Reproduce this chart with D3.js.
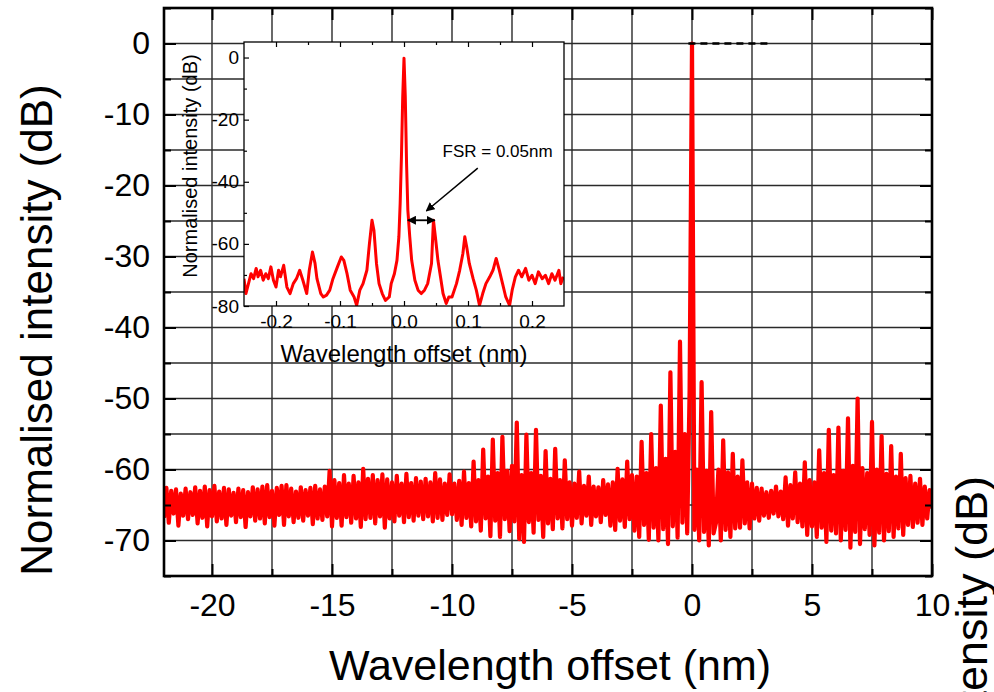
<!DOCTYPE html>
<html><head><meta charset="utf-8">
<script src="https://cdn.jsdelivr.net/npm/d3@7"></script>
<style>
body{margin:0;background:#fff}
svg text{font-family:"Liberation Sans",Arial,Helvetica,sans-serif;fill:#000}
</style>
</head><body>
<svg id="chart" width="994" height="692"></svg>
<script>
// ---------------- DATA ----------------
// main spectrum: samples from -22 nm every 0.1 nm
const mainXStart = -22, mainXStep = 0.1;
const mainY = [
 -66.8,-62.6,-67.5,-63.0,-66.2,-62.8,-67.9,-63.4,-66.5,-62.7,
 -67.0,-63.2,-66.4,-62.5,-67.6,-63.0,-66.8,-62.4,-68.0,-62.9,
 -66.6,-62.3,-67.3,-63.1,-66.9,-62.6,-67.8,-62.8,-66.5,-63.3,
 -67.4,-62.7,-66.7,-62.9,-68.1,-63.2,-66.6,-62.5,-67.2,-62.8,
 -66.9,-62.4,-67.6,-62.2,-66.7,-63.0,-67.9,-62.6,-66.4,-62.3,
 -67.8,-62.2,-66.6,-62.7,-67.4,-63.1,-66.8,-62.5,-67.2,-62.9,
 -66.5,-62.6,-67.7,-62.3,-66.9,-62.8,-67.1,-62.4,-66.6,-60.2,
 -68.0,-61.5,-66.8,-61.9,-67.9,-60.8,-66.7,-62.0,-67.5,-60.9,
 -66.9,-61.8,-68.1,-59.9,-67.0,-61.3,-66.8,-60.8,-67.6,-61.5,
 -66.6,-60.7,-68.2,-61.4,-66.9,-61.8,-67.3,-60.9,-66.5,-62.0,
 -67.4,-60.6,-66.7,-61.9,-67.2,-61.2,-66.5,-61.7,-67.0,-61.3,
 -66.6,-61.8,-67.3,-60.5,-66.8,-61.4,-67.1,-62.0,-66.4,-60.7,
 -66.3,-62.0,-67.1,-61.6,-67.8,-60.3,-66.8,-61.9,-68.0,-58.9,
 -67.3,-61.5,-68.6,-57.2,-66.9,-61.0,-69.4,-55.8,-67.2,-60.5,
 -69.5,-55.4,-67.0,-60.2,-68.7,-59.5,-67.3,-53.4,-69.8,-60.8,
 -70.2,-55.1,-67.4,-60.5,-68.9,-54.4,-67.1,-60.9,-69.5,-57.4,
 -67.6,-61.3,-68.4,-57.1,-66.9,-61.5,-68.3,-58.7,-67.0,-61.8,
 -67.9,-62.0,-66.8,-60.3,-67.6,-62.3,-66.5,-61.0,-67.8,-62.4,
 -66.6,-62.5,-67.4,-61.5,-66.4,-62.1,-67.9,-61.8,-68.5,-59.9,
 -67.2,-61.4,-68.1,-58.9,-67.0,-60.8,-68.6,-61.0,-69.5,-56.1,
 -67.8,-60.5,-69.9,-55.0,-68.2,-59.8,-70.0,-51.0,-68.4,-58.5,
 -70.5,-46.3,-68.0,-57.5,-69.6,-42.0,-67.5,-55.0,-69.0,-48.8,
   0.0,-68.5,-60.0,-70.0,-47.7,-68.8,-60.2,-70.7,-51.9,-69.0,
 -67.5,-60.0,-70.0,-55.9,-68.5,-60.4,-69.5,-57.8,-68.3,-61.0,
 -68.2,-58.7,-67.6,-61.8,-68.3,-62.0,-66.9,-62.6,-67.2,-62.7,
 -66.5,-63.2,-66.8,-63.0,-66.2,-62.4,-66.6,-63.1,-67.0,-61.1,
 -67.9,-62.2,-66.9,-60.4,-67.4,-62.0,-68.0,-59.0,-69.2,-61.5,
 -68.0,-61.8,-69.5,-57.3,-68.2,-60.5,-70.2,-54.4,-68.6,-60.8,
 -69.0,-54.1,-70.0,-60.2,-68.5,-52.8,-71.0,-59.5,-68.8,-50.0,
 -70.5,-59.8,-68.4,-60.5,-69.2,-53.3,-70.7,-60.0,-68.9,-55.3,
 -70.0,-60.6,-68.7,-56.7,-69.5,-61.0,-68.3,-57.8,-69.2,-61.2,
 -67.8,-60.9,-68.1,-62.0,-67.5,-61.3,-67.8,-62.4,-66.9,-62.9,
 -65.5
];
// dashed 0 dB reference
const dashX = [-0.15, 3.2];
const dashY = [0, 0];

const xMajorTicks = [-20,-15,-10,-5,0,5,10];
const xMinorTicks = [-17.5,-12.5,-7.5,-2.5,2.5,7.5];
const yMajorTicks = [0,-10,-20,-30,-40,-50,-60,-70];
const yMinorTicks = [5,-5,-15,-25,-35,-45,-55,-65,-75];
const xGrid = [-20,-17.5,-15,-12.5,-10,-7.5,-5,-2.5,0,2.5,5,7.5];
const yGrid = [0,-5,-10,-15,-20,-25,-30,-35,-40,-45,-50,-55,-60,-65,-70];

// inset spectrum
const insetX = [-0.250,-0.247,-0.243,-0.239,-0.235,-0.231,-0.228,-0.224,-0.220,-0.216,
 -0.212,-0.208,-0.204,-0.200,-0.196,-0.193,-0.188,-0.183,-0.178,-0.173,
 -0.168,-0.163,-0.158,-0.152,-0.148,-0.143,-0.139,-0.136,-0.130,-0.126,
 -0.121,-0.116,-0.111,-0.104,-0.098,-0.094,-0.089,-0.084,-0.078,-0.074,
 -0.069,-0.064,-0.058,-0.054,-0.050,-0.047,-0.043,-0.039,-0.034,-0.029,
 -0.023,-0.020,-0.015,-0.011,-0.008,-0.006,-0.004,-0.002,0.000,0.002,
 0.004,0.006,0.009,0.012,0.017,0.022,0.027,0.032,0.037,0.043,
 0.046,0.049,0.053,0.057,0.061,0.066,0.070,0.075,0.082,0.087,
 0.092,0.095,0.098,0.102,0.108,0.113,0.118,0.123,0.128,0.134,
 0.139,0.144,0.149,0.154,0.159,0.165,0.169,0.174,0.179,0.184,
 0.190,0.195,0.200,0.205,0.210,0.216,0.221,0.226,0.231,0.236,
 0.242,0.245,0.249];
const insetY = [-71.2,-76.0,-72.8,-69.6,-71.2,-67.9,-70.6,-68.5,-71.7,-69.6,
 -71.2,-67.4,-71.7,-73.9,-68.5,-70.6,-66.9,-73.9,-76.0,-72.8,
 -71.2,-68.5,-71.7,-76.0,-68.5,-62.6,-66.3,-71.2,-76.0,-77.1,
 -76.5,-74.9,-71.2,-67.4,-64.2,-65.3,-69.6,-74.9,-77.1,-79.8,
 -74.9,-72.8,-68.5,-59.9,-52.4,-55.6,-66.3,-72.8,-76.0,-78.2,
 -77.1,-72.8,-69.6,-65.3,-57.7,-47.0,-31.9,-12.6,-0.2,-12.6,
 -34.1,-49.1,-57.7,-65.3,-71.7,-74.9,-76.0,-74.9,-72.8,-66.3,
 -52.4,-57.7,-65.3,-70.6,-76.0,-79.2,-77.1,-77.1,-72.8,-68.5,
 -63.1,-57.7,-61.0,-66.3,-71.2,-74.9,-79.8,-76.0,-72.8,-70.6,
 -68.5,-64.7,-68.5,-72.8,-77.1,-79.8,-74.9,-70.6,-68.5,-70.6,
 -67.9,-71.7,-70.1,-72.8,-69.0,-71.2,-70.1,-72.8,-69.6,-71.7,
 -68.5,-72.8,-70.6];
const insetXMajor = [-0.2,-0.1,0,0.1,0.2];
const insetXMinor = [-0.15,-0.05,0.05,0.15];
const insetYMajor = [0,-20,-40,-60,-80];
const insetYMinor = [-10,-30,-50,-70];

// annotation (inset data coordinates)
const fsrLabel = "FSR = 0.05nm";
const fsrLabelPos = [0.0602, -32.0];
const fsrArrowFrom = [0.1153, -35.6];
const fsrArrowTo = [0.0349, -49.4];
const fsrSpanX = [0.006, 0.048];
const fsrSpanY = -52.4;

// ---------------- DRAW ----------------
const svg = d3.select("#chart");
const x = d3.scaleLinear().domain([-22, 10]).range([164, 932]);
const y = d3.scaleLinear().domain([-75, 5]).range([576, 8]);

const gridCol = "#2a2a2a";
const g = svg.append("g");
g.selectAll("line.vg").data(xGrid).join("line")
  .attr("x1", d => x(d)).attr("x2", d => x(d)).attr("y1", y(5)).attr("y2", y(-75))
  .attr("stroke", gridCol).attr("stroke-width", 1.4);
g.selectAll("line.hg").data(yGrid).join("line")
  .attr("y1", d => y(d)).attr("y2", d => y(d)).attr("x1", x(-22)).attr("x2", x(10))
  .attr("stroke", gridCol).attr("stroke-width", 1.4);

svg.append("clipPath").attr("id", "mclip").append("rect")
  .attr("x", x(-22)).attr("y", y(5)).attr("width", x(10) - x(-22)).attr("height", y(-75) - y(5));

const mainPts = mainY.map((v, i) => [mainXStart + i * mainXStep, v]);
svg.append("path").attr("clip-path", "url(#mclip)")
  .attr("d", d3.line().x(d => x(d[0])).y(d => y(d[1]))(mainPts))
  .attr("fill", "none").attr("stroke", "#ff0000").attr("stroke-width", 4.2)
  .attr("stroke-linejoin", "round");

svg.append("path")
  .attr("d", d3.line().x(d => x(d[0])).y(d => y(d[1]))(dashX.map((v, i) => [v, dashY[i]])))
  .attr("fill", "none").attr("stroke", "#000").attr("stroke-width", 2.5)
  .attr("stroke-dasharray", "7,5");

// main axes
function styleAxis(sel, w) {
  sel.select(".domain").remove();
  sel.selectAll(".tick line").attr("stroke", "#000").attr("stroke-width", w);
}
const fmtInt = d => String(d);
svg.append("g").attr("transform", `translate(0,${y(-75)})`)
  .call(d3.axisBottom(x).tickValues(xMajorTicks).tickFormat(fmtInt).tickSizeInner(-12).tickSizeOuter(0).tickPadding(17))
  .call(s => styleAxis(s, 2))
  .selectAll("text").attr("font-size", 32).attr("font-family", "Liberation Sans, Arial, sans-serif");
svg.append("g").attr("transform", `translate(0,${y(-75)})`)
  .call(d3.axisBottom(x).tickValues(xMinorTicks).tickFormat("").tickSizeInner(-7).tickSizeOuter(0))
  .call(s => styleAxis(s, 2));
svg.append("g").attr("transform", `translate(0,${y(5)})`)
  .call(d3.axisTop(x).tickValues(xMajorTicks).tickFormat("").tickSizeInner(-12).tickSizeOuter(0))
  .call(s => styleAxis(s, 2));
svg.append("g").attr("transform", `translate(0,${y(5)})`)
  .call(d3.axisTop(x).tickValues(xMinorTicks).tickFormat("").tickSizeInner(-7).tickSizeOuter(0))
  .call(s => styleAxis(s, 2));
svg.append("g").attr("transform", `translate(${x(-22)},0)`)
  .call(d3.axisLeft(y).tickValues(yMajorTicks).tickFormat(fmtInt).tickSizeInner(-12).tickSizeOuter(0).tickPadding(14))
  .call(s => styleAxis(s, 2))
  .selectAll("text").attr("font-size", 32).attr("font-family", "Liberation Sans, Arial, sans-serif");
svg.append("g").attr("transform", `translate(${x(-22)},0)`)
  .call(d3.axisLeft(y).tickValues(yMinorTicks).tickFormat("").tickSizeInner(-7).tickSizeOuter(0))
  .call(s => styleAxis(s, 2));
svg.append("g").attr("transform", `translate(${x(10)},0)`)
  .call(d3.axisRight(y).tickValues(yMajorTicks).tickFormat("").tickSizeInner(-12).tickSizeOuter(0))
  .call(s => styleAxis(s, 2));
svg.append("g").attr("transform", `translate(${x(10)},0)`)
  .call(d3.axisRight(y).tickValues(yMinorTicks).tickFormat("").tickSizeInner(-7).tickSizeOuter(0))
  .call(s => styleAxis(s, 2));

svg.append("rect").attr("x", x(-22)).attr("y", y(5))
  .attr("width", x(10) - x(-22)).attr("height", y(-75) - y(5))
  .attr("fill", "none").attr("stroke", "#000").attr("stroke-width", 2.6);

// titles
svg.append("text").attr("x", (x(-22) + x(10)) / 2 + 2).attr("y", 680)
  .attr("text-anchor", "middle").attr("font-size", 43).text("Wavelength offset (nm)");
svg.append("text").attr("transform", "translate(52,330) rotate(-90)")
  .attr("text-anchor", "middle").attr("font-size", 44).text("Normalised intensity (dB)");
// right-hand title, cropped by the page edge as in the original figure
svg.append("text").attr("transform", "translate(987,476) rotate(-90)")
  .attr("text-anchor", "end").attr("font-size", 45).text("Normalised intensity (dB)");

// ---------------- INSET ----------------
const ix = d3.scaleLinear().domain([-0.25, 0.25]).range([244, 564]);
const iy = d3.scaleLinear().domain([-80, 5]).range([306, 42]);
svg.append("rect").attr("x", ix(-0.25)).attr("y", iy(5))
  .attr("width", ix(0.25) - ix(-0.25)).attr("height", iy(-80) - iy(5)).attr("fill", "#fff");
svg.append("clipPath").attr("id", "iclip").append("rect")
  .attr("x", ix(-0.25)).attr("y", iy(5)).attr("width", ix(0.25) - ix(-0.25)).attr("height", iy(-80) - iy(5));
const n = Math.min(insetX.length, insetY.length);
const insetPts = d3.range(n).map(i => [insetX[i], insetY[i]]);
svg.append("path").attr("clip-path", "url(#iclip)")
  .attr("d", d3.line().x(d => ix(d[0])).y(d => iy(d[1]))(insetPts))
  .attr("fill", "none").attr("stroke", "#ff0000").attr("stroke-width", 3)
  .attr("stroke-linejoin", "round");

const fmt1 = d => d.toFixed(1);
svg.append("g").attr("transform", `translate(0,${iy(-80)})`)
  .call(d3.axisBottom(ix).tickValues(insetXMajor).tickFormat(fmt1).tickSizeInner(-5).tickSizeOuter(0).tickPadding(9))
  .call(s => styleAxis(s, 1.2))
  .selectAll("text").attr("font-size", 19).attr("font-family", "Liberation Sans, Arial, sans-serif");
svg.append("g").attr("transform", `translate(0,${iy(-80)})`)
  .call(d3.axisBottom(ix).tickValues(insetXMinor).tickFormat("").tickSizeInner(-3).tickSizeOuter(0))
  .call(s => styleAxis(s, 1.2));
svg.append("g").attr("transform", `translate(0,${iy(5)})`)
  .call(d3.axisTop(ix).tickValues(insetXMajor).tickFormat("").tickSizeInner(-5).tickSizeOuter(0))
  .call(s => styleAxis(s, 1.2));
svg.append("g").attr("transform", `translate(0,${iy(5)})`)
  .call(d3.axisTop(ix).tickValues(insetXMinor).tickFormat("").tickSizeInner(-3).tickSizeOuter(0))
  .call(s => styleAxis(s, 1.2));
svg.append("g").attr("transform", `translate(${ix(-0.25)},0)`)
  .call(d3.axisLeft(iy).tickValues(insetYMajor).tickFormat(fmtInt).tickSizeInner(-5).tickSizeOuter(0).tickPadding(5))
  .call(s => styleAxis(s, 1.2))
  .selectAll("text").attr("font-size", 19).attr("font-family", "Liberation Sans, Arial, sans-serif");
svg.append("g").attr("transform", `translate(${ix(-0.25)},0)`)
  .call(d3.axisLeft(iy).tickValues(insetYMinor).tickFormat("").tickSizeInner(-3).tickSizeOuter(0))
  .call(s => styleAxis(s, 1.2));

svg.append("rect").attr("x", ix(-0.25)).attr("y", iy(5))
  .attr("width", ix(0.25) - ix(-0.25)).attr("height", iy(-80) - iy(5))
  .attr("fill", "none").attr("stroke", "#000").attr("stroke-width", 1.3);

svg.append("text").attr("x", ix(0)).attr("y", 362).attr("text-anchor", "middle")
  .attr("font-size", 24).text("Wavelength offset (nm)");
svg.append("text").attr("transform", `translate(197,${(iy(5) + iy(-80)) / 2 - 8}) rotate(-90)`)
  .attr("text-anchor", "middle").attr("font-size", 20).text("Normalised intensity (dB)");

// annotation
const defs = svg.append("defs");
defs.append("marker").attr("id", "ah").attr("viewBox", "0 0 10 10").attr("refX", 9).attr("refY", 5)
  .attr("markerWidth", 9).attr("markerHeight", 9).attr("markerUnits", "userSpaceOnUse")
  .attr("orient", "auto-start-reverse")
  .append("path").attr("d", "M0,0 L10,5 L0,10 Z").attr("fill", "#000");
svg.append("line")
  .attr("x1", ix(fsrArrowFrom[0])).attr("y1", iy(fsrArrowFrom[1]))
  .attr("x2", ix(fsrArrowTo[0])).attr("y2", iy(fsrArrowTo[1]))
  .attr("stroke", "#000").attr("stroke-width", 1.5).attr("marker-end", "url(#ah)");
svg.append("line")
  .attr("x1", ix(fsrSpanX[0])).attr("y1", iy(fsrSpanY))
  .attr("x2", ix(fsrSpanX[1])).attr("y2", iy(fsrSpanY))
  .attr("stroke", "#000").attr("stroke-width", 1.8)
  .attr("marker-start", "url(#ah)").attr("marker-end", "url(#ah)");
svg.append("text").attr("x", ix(fsrLabelPos[0])).attr("y", iy(fsrLabelPos[1]))
  .attr("font-size", 17).text(fsrLabel);
</script>
</body></html>
